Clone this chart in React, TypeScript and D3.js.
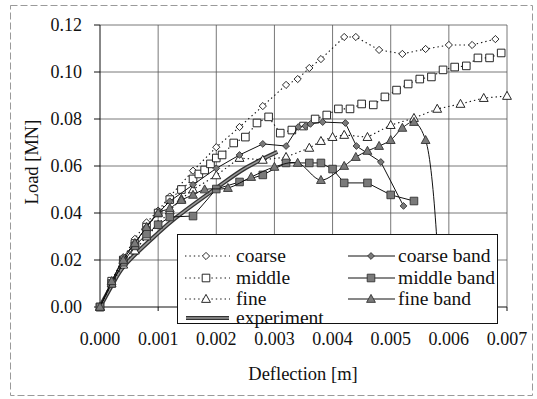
import React from 'react';
import * as d3 from 'd3';

// axis ticks
const xTicks = [0, 0.001, 0.002, 0.003, 0.004, 0.005, 0.006, 0.007];
const yTicks = [0, 0.02, 0.04, 0.06, 0.08, 0.1, 0.12];

// [deflection m, load MN]
const coarse: [number, number][] = [
  [0, 0], [0.0002, 0.011], [0.0004, 0.021], [0.0006, 0.029], [0.0008, 0.036], [0.001, 0.041],
  [0.0012, 0.047], [0.0016, 0.058], [0.002, 0.068], [0.0024, 0.0766], [0.0028, 0.0855],
  [0.0032, 0.0945], [0.0034, 0.097], [0.0036, 0.1017], [0.0038, 0.1055], [0.0042, 0.1149],
  [0.0044, 0.1149], [0.0048, 0.1094], [0.0052, 0.1077], [0.0056, 0.1098], [0.006, 0.1115],
  [0.0064, 0.1115], [0.0068, 0.114],
];
const middle: [number, number][] = [
  [0, 0], [0.0002, 0.011], [0.0004, 0.02], [0.0006, 0.027], [0.0008, 0.034], [0.001, 0.04],
  [0.0012, 0.0457], [0.0014, 0.05], [0.0016, 0.0545], [0.0017, 0.0566], [0.0018, 0.0583],
  [0.0019, 0.0609], [0.002, 0.0634], [0.0021, 0.0647], [0.0023, 0.0698], [0.0025, 0.0723],
  [0.0027, 0.0783], [0.0029, 0.0809], [0.0031, 0.074], [0.0033, 0.0753], [0.0035, 0.077],
  [0.0037, 0.08], [0.0039, 0.0817], [0.0041, 0.0843], [0.0043, 0.0843], [0.0045, 0.0864],
  [0.0047, 0.086], [0.0049, 0.0894], [0.0051, 0.0923], [0.0053, 0.0949], [0.0055, 0.097],
  [0.0057, 0.0979], [0.0059, 0.1009], [0.0061, 0.1021], [0.0063, 0.1026], [0.0065, 0.106],
  [0.0067, 0.106], [0.0069, 0.1081],
];
const fine: [number, number][] = [
  [0, 0], [0.0002, 0.01], [0.0004, 0.018], [0.0006, 0.024], [0.0008, 0.03], [0.001, 0.035],
  [0.0012, 0.041], [0.0014, 0.046], [0.0016, 0.05], [0.002, 0.056], [0.0024, 0.0634],
  [0.0028, 0.0626], [0.0032, 0.0638], [0.0036, 0.0677], [0.0038, 0.0706], [0.004, 0.0723],
  [0.0042, 0.0732], [0.0046, 0.0723], [0.005, 0.0774], [0.0054, 0.0804], [0.0058, 0.0843],
  [0.0062, 0.0864], [0.0066, 0.0889], [0.007, 0.0898],
];
const coarseBand: [number, number][] = [
  [0, 0], [0.0002, 0.0106], [0.0004, 0.0213], [0.0006, 0.0272], [0.0008, 0.034], [0.001, 0.04],
  [0.0012, 0.045], [0.0016, 0.052], [0.002, 0.059], [0.0024, 0.0647], [0.0028, 0.0694],
  [0.0032, 0.0685], [0.00341, 0.0766], [0.00353, 0.077], [0.00362, 0.0779], [0.00383, 0.0787],
  [0.00422, 0.0783], [0.00441, 0.0685], [0.00483, 0.0617], [0.00522, 0.043],
];
const middleBand: [number, number][] = [
  [0, 0], [0.0002, 0.01], [0.0004, 0.019], [0.0006, 0.026], [0.0008, 0.031], [0.001, 0.035],
  [0.0012, 0.0383], [0.0016, 0.0387], [0.002, 0.0502], [0.0024, 0.0532], [0.0028, 0.0562],
  [0.0032, 0.0613], [0.0036, 0.0613], [0.0038, 0.0613], [0.004, 0.0587], [0.0042, 0.0528],
  [0.0046, 0.0528], [0.005, 0.0477], [0.0054, 0.0451],
];
const fineBand: [number, number][] = [
  [0, 0], [0.0002, 0.011], [0.0004, 0.02], [0.0006, 0.0272], [0.0008, 0.034], [0.001, 0.04],
  [0.0012, 0.042], [0.0014, 0.0455], [0.0016, 0.0477], [0.0018, 0.05], [0.0022, 0.0506],
  [0.0026, 0.0553], [0.003, 0.0596], [0.0034, 0.0613], [0.0038, 0.054], [0.0042, 0.06],
  [0.0044, 0.0638], [0.0046, 0.0664], [0.0048, 0.0685], [0.005, 0.071], [0.0052, 0.0762],
  [0.0054, 0.0787], [0.0056, 0.071], [0.00585, 0.002],
];
const experiment: [number, number][] = [
  [0, 0], [0.0002, 0.009], [0.0004, 0.017], [0.001, 0.0315], [0.0013, 0.0379],
  [0.002, 0.0506], [0.0025, 0.0591], [0.00305, 0.066],
];

const W = 537, H = 399;
const FONT = '"Liberation Serif"';

type Shape = 'diamond' | 'square' | 'triangle';
const shapePath = (s: Shape, r: number) => {
  if (s === 'diamond') return `M0,${-r}L${r},0L0,${r}L${-r},0Z`;
  if (s === 'square') return `M${-r},${-r}H${r}V${r}H${-r}Z`;
  return `M0,${-r * 1.1}L${r * 1.05},${r * 0.8}L${-r * 1.05},${r * 0.8}Z`;
};

const series = [
  { name: 'coarse', data: coarse, shape: 'diamond' as Shape, r: 3.6, open: true },
  { name: 'middle', data: middle, shape: 'square' as Shape, r: 3.8, open: true },
  { name: 'fine', data: fine, shape: 'triangle' as Shape, r: 4.2, open: true },
  { name: 'coarse band', data: coarseBand, shape: 'diamond' as Shape, r: 3.4, open: false },
  { name: 'middle band', data: middleBand, shape: 'square' as Shape, r: 3.8, open: false },
  { name: 'fine band', data: fineBand, shape: 'triangle' as Shape, r: 4.2, open: false },
];

const x = d3.scaleLinear().domain([0, 0.007]).range([100, 507]);
const y = d3.scaleLinear().domain([0, 0.12]).range([307, 25]);
const straight = d3.line<[number, number]>().x(d => x(d[0])).y(d => y(d[1]));
const smooth = d3.line<[number, number]>().x(d => x(d[0])).y(d => y(d[1]))
  .curve(d3.curveCatmullRom.alpha(0.5));

const markerProps = (open: boolean) => ({
  fill: open ? 'white' : '#7a7a7a',
  stroke: open ? '#111' : '#333',
  strokeWidth: 0.9,
});

export default function App() {
  const legendRows = [256, 278, 299];
  return (
    <svg width={W} height={H} fontFamily={FONT}
      style={{ position: 'absolute', left: 0, top: 0, background: 'white', fontFamily: FONT }}>
      {/* outer frame */}
      <rect x={10.5} y={5.5} width={522} height={390} fill="white" stroke="#9a9a9a" strokeDasharray="7,3" />

      {/* grid */}
      {xTicks.slice(1).map(t => (
        <line key={'gx' + t} x1={x(t)} x2={x(t)} y1={y(0.12)} y2={y(0)} stroke="#555" strokeWidth={0.8} />
      ))}
      {yTicks.slice(1).map(t => (
        <line key={'gy' + t} x1={x(0)} x2={x(0.007)} y1={y(t)} y2={y(t)} stroke="#555" strokeWidth={0.8} />
      ))}

      {/* axes */}
      <line x1={x(0)} x2={x(0)} y1={y(0.12)} y2={y(0)} stroke="#111" />
      <line x1={x(0)} x2={x(0.007)} y1={y(0)} y2={y(0)} stroke="#111" />
      {yTicks.map(t => (
        <g key={'yt' + t}>
          <line x1={x(0) - 6} x2={x(0)} y1={y(t)} y2={y(t)} stroke="#111" />
          <text x={82} y={y(t)} dy="0.35em" textAnchor="end" fontSize={18} fill="#111">{d3.format('.2f')(t)}</text>
        </g>
      ))}
      {xTicks.map(t => (
        <g key={'xt' + t}>
          <line x1={x(t)} x2={x(t)} y1={y(0)} y2={y(0) + 4} stroke="#111" />
          <text x={x(t)} y={345} textAnchor="middle" fontSize={18} fill="#111">{d3.format('.3f')(t)}</text>
        </g>
      ))}

      {/* axis titles */}
      <text x={303} y={380} textAnchor="middle" fontSize={18.5} fill="#111">Deflection [m]</text>
      <text transform="translate(38,162) rotate(-90)" textAnchor="middle" fontSize={18.5} fill="#111">Load [MN]</text>

      {/* experiment: double line */}
      <path d={smooth(experiment) || ''} fill="none" stroke="#333" strokeWidth={4.2} />
      <path d={smooth(experiment) || ''} fill="none" stroke="#9a9a9a" strokeWidth={1.6} />

      {series.map(s => {
        const gen = s.name === 'fine band' ? smooth : straight;
        const pts = s.name === 'fine band' ? s.data.slice(0, -1) : s.data;
        return (
          <g key={s.name}>
            <path d={gen(s.data) || ''} fill="none" stroke="#111" strokeWidth={s.open ? 1.1 : 1}
              strokeDasharray={s.open ? '1.4,3' : undefined} />
            {pts.map((d, i) => (
              <path key={i} transform={`translate(${x(d[0])},${y(d[1])})`} d={shapePath(s.shape, s.r)}
                {...markerProps(s.open)} />
            ))}
          </g>
        );
      })}

      {/* legend */}
      <rect x={177.5} y={234.5} width={320} height={89} fill="white" stroke="#111" />
      {series.map((s, i) => {
        const col = i < 3 ? 0 : 1;
        const cy = legendRows[i % 3];
        const x0 = col === 0 ? 185 : 348;
        const x1 = col === 0 ? 230 : 395;
        const mx = col === 0 ? 206 : 371;
        return (
          <g key={'lg' + s.name}>
            <line x1={x0} x2={x1} y1={cy} y2={cy} stroke="#111"
              strokeDasharray={s.open ? '1.4,3' : undefined} />
            <path transform={`translate(${mx},${cy})`} d={shapePath(s.shape, s.r)} {...markerProps(s.open)} />
            <text x={col === 0 ? 236 : 398} y={cy + 6} fontSize={19.5} fill="#111">{s.name}</text>
          </g>
        );
      })}
      <line x1={186} x2={229} y1={318} y2={318} stroke="#333" strokeWidth={4.2} />
      <line x1={186} x2={229} y1={318} y2={318} stroke="#9a9a9a" strokeWidth={1.6} />
      <text x={236} y={324} fontSize={19.5} fill="#111">experiment</text>
    </svg>
  );
}
